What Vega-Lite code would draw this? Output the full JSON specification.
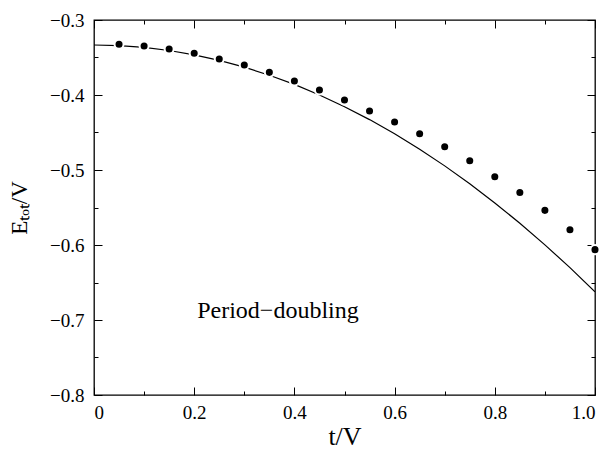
{
  "$schema": "https://vega.github.io/schema/vega-lite/v6.json",
  "autosize": {"type": "none"},
  "width": 501,
  "height": 375,
  "padding": {"left": 94, "top": 20, "right": 18, "bottom": 55},
  "background": "white",
  "config": {
    "view": {"stroke": "black", "strokeWidth": 1.3},
    "font": "Liberation Serif",
    "axis": {"domain": false, "grid": false, "tickColor": "black", "tickWidth": 1, "labelColor": "black", "titleColor": "black", "labelFont": "Liberation Serif", "titleFont": "Liberation Serif", "labelFontSize": 19, "titleFontWeight": "normal"}
  },
  "datasets": {
    "curve": [
      {"t": 0.0, "E": -0.3333}, {"t": 0.05, "E": -0.3341}, {"t": 0.1, "E": -0.3366}, {"t": 0.15, "E": -0.3407},
      {"t": 0.2, "E": -0.3465}, {"t": 0.25, "E": -0.3539}, {"t": 0.3, "E": -0.3629}, {"t": 0.35, "E": -0.3736},
      {"t": 0.4, "E": -0.3859}, {"t": 0.45, "E": -0.3999}, {"t": 0.5, "E": -0.4156}, {"t": 0.55, "E": -0.4328},
      {"t": 0.6, "E": -0.4517}, {"t": 0.65, "E": -0.4723}, {"t": 0.7, "E": -0.4945}, {"t": 0.75, "E": -0.5184},
      {"t": 0.8, "E": -0.5439}, {"t": 0.85, "E": -0.5710}, {"t": 0.9, "E": -0.5998}, {"t": 0.95, "E": -0.6302},
      {"t": 1.0, "E": -0.6623}
    ],
    "dots": [
      {"t": 0.05, "E": -0.3324}, {"t": 0.1, "E": -0.3347}, {"t": 0.15, "E": -0.3387}, {"t": 0.2, "E": -0.3444},
      {"t": 0.25, "E": -0.352}, {"t": 0.3, "E": -0.360}, {"t": 0.35, "E": -0.3698}, {"t": 0.4, "E": -0.3813},
      {"t": 0.45, "E": -0.3933}, {"t": 0.5, "E": -0.4067}, {"t": 0.55, "E": -0.4213}, {"t": 0.6, "E": -0.436},
      {"t": 0.65, "E": -0.4516}, {"t": 0.7, "E": -0.469}, {"t": 0.75, "E": -0.4876}, {"t": 0.8, "E": -0.5089},
      {"t": 0.85, "E": -0.530}, {"t": 0.9, "E": -0.5538}, {"t": 0.95, "E": -0.5796}, {"t": 1.0, "E": -0.6062}
    ],
    "label": [{"t": 0.206, "E": -0.6973, "text": "Period−doubling"}]
  },
  "layer": [
    {
      "data": {"name": "curve"},
      "mark": {"type": "line", "color": "black", "strokeWidth": 1.2, "clip": true},
      "encoding": {
        "x": {"field": "t", "type": "quantitative", "scale": {"domain": [0, 1], "nice": false},
          "axis": {"orient": "bottom", "title": "t/V", "titleFontSize": 26, "titleY": 49, "titleBaseline": "alphabetic",
            "values": [0, 0.1, 0.2, 0.3, 0.4, 0.5, 0.6, 0.7, 0.8, 0.9, 1.0],
            "tickSize": {"condition": {"test": "round(datum.value*10) % 2 === 0", "value": -8}, "value": -4},
            "labelPadding": 16,
            "labelExpr": "round(datum.value*10) % 2 === 0 ? (datum.value === 0 ? '0' : format(datum.value, '.1f')) : ''"}},
        "y": {"field": "E", "type": "quantitative", "scale": {"domain": [-0.8, -0.3], "nice": false, "zero": false},
          "axis": {"orient": "left", "title": "Eₜₒₜ/V", "titleFontSize": 23, "titleX": -86, "titleBaseline": "top",
            "values": [-0.8, -0.75, -0.7, -0.65, -0.6, -0.55, -0.5, -0.45, -0.4, -0.35, -0.3],
            "tickSize": {"condition": {"test": "round(datum.value*20) % 2 === 0", "value": -8}, "value": -4},
            "labelPadding": 18,
            "labelExpr": "round(datum.value*20) % 2 === 0 ? format(datum.value, '.1f') : ''"}}
      }
    },
    {
      "data": {"name": "dots"},
      "mark": {"type": "point", "filled": true, "color": "black", "opacity": 1, "size": 82, "stroke": "white", "strokeWidth": 2, "strokeOpacity": 1, "clip": false},
      "encoding": {
        "x": {"field": "t", "type": "quantitative",
          "axis": {"orient": "top", "title": null, "labels": false,
            "values": [0, 0.1, 0.2, 0.3, 0.4, 0.5, 0.6, 0.7, 0.8, 0.9, 1.0],
            "tickSize": {"condition": {"test": "round(datum.value*10) % 2 === 0", "value": -8}, "value": -4}}},
        "y": {"field": "E", "type": "quantitative",
          "axis": {"orient": "right", "title": null, "labels": false,
            "values": [-0.8, -0.75, -0.7, -0.65, -0.6, -0.55, -0.5, -0.45, -0.4, -0.35, -0.3],
            "tickSize": {"condition": {"test": "round(datum.value*20) % 2 === 0", "value": -8}, "value": -4}}}
      }
    },
    {
      "data": {"name": "label"},
      "mark": {"type": "text", "align": "left", "baseline": "alphabetic", "fontSize": 24, "font": "Liberation Serif", "color": "black"},
      "encoding": {
        "x": {"field": "t", "type": "quantitative", "axis": null},
        "y": {"field": "E", "type": "quantitative", "axis": null},
        "text": {"field": "text"}
      }
    }
  ],
  "resolve": {"axis": {"x": "independent", "y": "independent"}}
}
